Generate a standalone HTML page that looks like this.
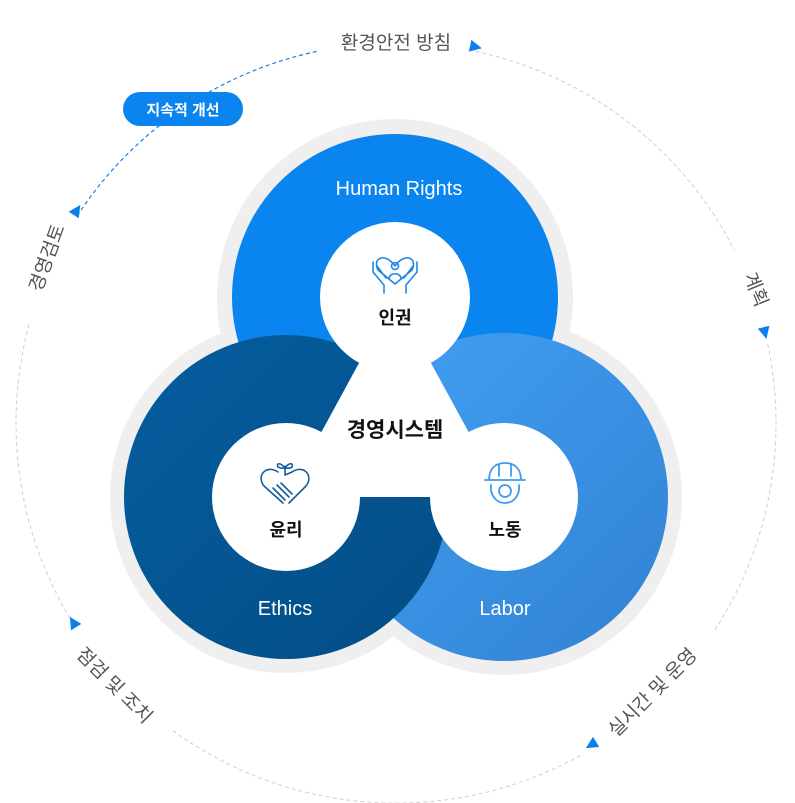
<!DOCTYPE html>
<html><head><meta charset="utf-8"><style>
html,body{margin:0;padding:0;background:#fff;}
svg{display:block;font-family:"Liberation Sans","Noto Sans CJK KR",sans-serif;}
</style></head><body>
<svg width="795" height="803" viewBox="0 0 795 803" xmlns="http://www.w3.org/2000/svg">
<defs>
<linearGradient id="gl" x1="0" y1="0" x2="1" y2="1"><stop offset="0" stop-color="#42a0f5"/><stop offset="1" stop-color="#3282d2"/></linearGradient>
<linearGradient id="ge" x1="0" y1="0" x2="1" y2="1"><stop offset="0" stop-color="#055d9f"/><stop offset="1" stop-color="#034d85"/></linearGradient>
</defs>
<g fill="none" stroke="#cfcfcf" stroke-width="1" stroke-dasharray="4 3">
<path d="M468.5 49.9 A380 380 0 0 1 734.6 250.5"/>
<path d="M767.7 344 A380 380 0 0 1 714.8 630"/>
<path d="M580.3 755.5 A380 380 0 0 1 172.6 730.4"/>
<path d="M73.8 624.4 A380 380 0 0 1 29 324.6"/>
</g>
<path d="M77.2 215.9 A380 380 0 0 1 317 51.4" fill="none" stroke="#1a7fe6" stroke-width="1.2" stroke-dasharray="4 3"/>
<g fill="#0c7fec">
<polygon points="-6,0 6,-6 6,6" transform="translate(476,47) rotate(12) scale(-1,1)"/>
<polygon points="-6,0 6,-6 6,6" transform="translate(765,333) rotate(76) scale(-1,1)"/>
<polygon points="-6,0 6,-6 6,6" transform="translate(591,745) rotate(149) scale(-1,1)"/>
<polygon points="-6,0 6,-6 6,6" transform="translate(73,622) rotate(238) scale(-1,1)"/>
<polygon points="-6,0 6,-6 6,6" transform="translate(77,210) rotate(303) scale(-1,1)"/>
</g>
<g fill="#555" font-size="19" text-anchor="middle">
<text x="396" y="49">환경안전 방침</text>
<text transform="translate(750,292) rotate(68)">계획</text>
<text transform="translate(657,697) rotate(-45)">실시간 및 운영</text>
<text transform="translate(110,690) rotate(45)">점검 및 조치</text>
<text transform="translate(53,260) rotate(-70)">경영검토</text>
</g>
<rect x="123" y="92" width="120" height="34" rx="17" fill="#0a84ee"/>
<text x="183" y="115" fill="#fff" font-size="15" font-weight="bold" text-anchor="middle">지속적 개선</text>
<g fill="#efefef">
<circle cx="395" cy="297" r="178"/>
<circle cx="286" cy="497" r="176"/>
<circle cx="504" cy="497" r="178"/>
</g>
<circle cx="395" cy="297" r="163" fill="#0a84ee"/>
<circle cx="504" cy="497" r="164" fill="url(#gl)"/>
<circle cx="286" cy="497" r="162" fill="url(#ge)"/>
<polygon points="395,297 286,497 504,497" fill="#fff"/>
<circle cx="395" cy="297" r="75" fill="#fff"/>
<circle cx="286" cy="497" r="74" fill="#fff"/>
<circle cx="504" cy="497" r="74" fill="#fff"/>
<g fill="#fff" font-size="20" text-anchor="middle">
<text x="399" y="195">Human Rights</text>
<text x="285" y="615">Ethics</text>
<text x="505" y="615">Labor</text>
</g>
<g fill="#111" font-weight="bold" text-anchor="middle">
<text x="395" y="324" font-size="18">인권</text>
<text x="286" y="536" font-size="18">윤리</text>
<text x="505" y="536" font-size="18">노동</text>
<text x="395" y="437" font-size="21">경영시스템</text>
</g>
<g fill="none" stroke="#1e88e8" stroke-width="1.6" stroke-linecap="round" stroke-linejoin="round">
<path d="M395 266 C385 252 372 258 378 270 L395 284 L412 270 C418 258 405 252 395 266"/>
<circle cx="395" cy="266" r="3.5"/>
<path d="M389 279 C389 272 401 272 401 279"/>
<path d="M384 293 L384 285 L373 272 L373 262 M377 266 L386 278"/>
<path d="M406 293 L406 285 L417 272 L417 262 M413 266 L404 278"/>
</g>
<g fill="none" stroke="#115d9e" stroke-width="1.6" stroke-linecap="round" stroke-linejoin="round">
<path d="M283 503 L264 486 C256 476 266 464 278 472 M289 503 L306 486 C314 476 304 464 292 472 L285 475"/>
<path d="M273 488 L285 500 M277 485 L289 497 M281 483 L292 494"/>
<path d="M285 474 L285 466 M285 468 C280 462 276 463 278 467 C281 469 284 468 285 468 C289 462 294 463 292 467 C290 469 286 468 285 468"/>
</g>
<g fill="none" stroke="#3d9bf2" stroke-width="1.8" stroke-linecap="round" stroke-linejoin="round">
<path d="M485 480 L525 480 M489 480 C489 468 496 463 505 463 C514 463 521 468 521 480 M499 464 L499 476 M511 464 L511 476"/>
<circle cx="505" cy="491" r="6"/>
<path d="M491 485 C490 495 496 503 505 503 C514 503 520 495 519 485"/>
</g>
</svg>
</body></html>
